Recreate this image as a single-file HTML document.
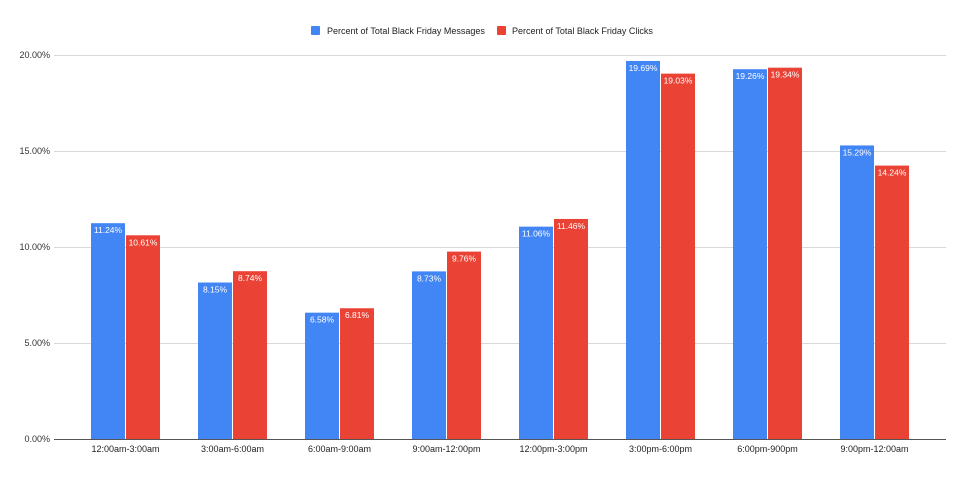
<!DOCTYPE html>
<html><head><style>body{margin:0;background:#fff}svg{display:block;font-family:"Liberation Sans",Arial,sans-serif}</style></head><body>
<svg width="960" height="485" xmlns="http://www.w3.org/2000/svg">
<rect x="311" y="26" width="9" height="9" rx="1" fill="#4285f4"/>
<text x="327" y="34" font-size="9" fill="#222">Percent of Total Black Friday Messages</text>
<rect x="497" y="26" width="9" height="9" rx="1" fill="#ea4335"/>
<text x="512" y="34" font-size="9" fill="#222">Percent of Total Black Friday Clicks</text>
<g stroke="#d9d9d9" stroke-width="1">
<line x1="54" x2="946" y1="55.5" y2="55.5"/><line x1="54" x2="946" y1="151.5" y2="151.5"/>
<line x1="54" x2="946" y1="247.5" y2="247.5"/><line x1="54" x2="946" y1="343.5" y2="343.5"/>
</g>
<g font-size="9" fill="#333" text-anchor="end">
<text x="50" y="58">20.00%</text><text x="50" y="154">15.00%</text><text x="50" y="250">10.00%</text><text x="50" y="346">5.00%</text><text x="50" y="442">0.00%</text>
</g>
<g id="bars"></g>
<line x1="54" x2="946" y1="439.5" y2="439.5" stroke="#555"/>
<g font-size="9" fill="#222" text-anchor="middle" id="xl"></g>
<script>
var d=[["12:00am-3:00am",11.24,10.61],["3:00am-6:00am",8.15,8.74],["6:00am-9:00am",6.58,6.81],["9:00am-12:00pm",8.73,9.76],["12:00pm-3:00pm",11.06,11.46],["3:00pm-6:00pm",19.69,19.03],["6:00pm-900pm",19.26,19.34],["9:00pm-12:00am",15.29,14.24]];
var ns="http://www.w3.org/2000/svg",b=document.getElementById("bars"),xl=document.getElementById("xl");
function el(t,a,p,txt){var e=document.createElementNS(ns,t);for(var k in a)e.setAttribute(k,a[k]);if(txt)e.textContent=txt;p.appendChild(e);}
d.forEach(function(r,i){var x=91+i*107;
[[r[1],x,"#4285f4"],[r[2],x+35,"#ea4335"]].forEach(function(s){var h=s[0]*19.2,y=439-h;
el("rect",{x:s[1],y:y,width:34,height:h,fill:s[2]},b);
el("text",{x:s[1]+17,y:y+10,"font-size":"8.5","fill":"#fff","text-anchor":"middle"},b,s[0].toFixed(2)+"%");});
el("text",{x:x+34.5,y:452},xl,r[0]);});
</script>
</svg>
</body></html>
